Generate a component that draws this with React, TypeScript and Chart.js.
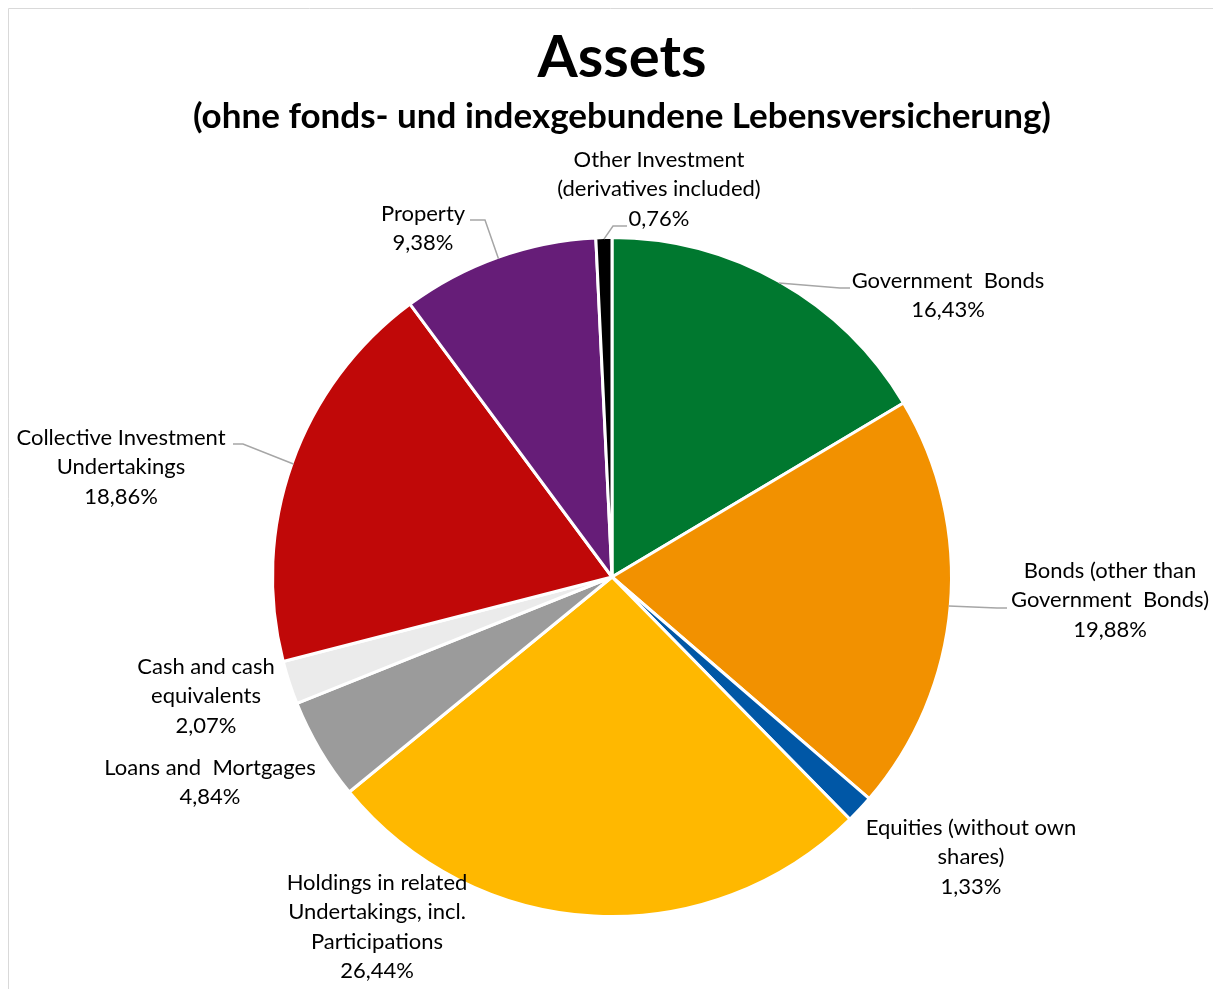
import React, { useEffect, useRef } from "react";
import { Chart, registerables } from "chart.js";

Chart.register(...registerables);

const categories = [
  "Government Bonds",
  "Bonds (other than Government Bonds)",
  "Equities (without own shares)",
  "Holdings in related Undertakings, incl. Participations",
  "Loans and Mortgages",
  "Cash and cash equivalents",
  "Collective Investment Undertakings",
  "Property",
  "Other Investment (derivatives included)",
];

const shares = [16.43, 19.88, 1.33, 26.44, 4.84, 2.07, 18.86, 9.38, 0.76];

const colors = [
  "#00782F",
  "#F29100",
  "#0057A6",
  "#FFB800",
  "#9B9B9B",
  "#EBEBEB",
  "#C00808",
  "#661D78",
  "#000000",
];

const wrappedLabels = [
  ["Government  Bonds"],
  ["Bonds (other than", "Government  Bonds)"],
  ["Equities (without own", "shares)"],
  ["Holdings in related", "Undertakings, incl.", "Participations"],
  ["Loans and  Mortgages"],
  ["Cash and cash", "equivalents"],
  ["Collective Investment", "Undertakings"],
  ["Property"],
  ["Other Investment", "(derivatives included)"],
];

const titleText = "Assets";
const subtitleText = "(ohne fonds- und indexgebundene Lebensversicherung)";

// label layout: offsets from pie centre (text centre x, first line centre y),
// optional leader: attach point and elbow point offsets
type LabelLayout = { dx: number; dy: number; leader?: { ax: number; ay: number; ex: number; ey: number } };
const labelLayout: LabelLayout[] = [
  { dx: 336, dy: -296, leader: { ax: 238, ay: -289, ex: 228, ey: -289 } },
  { dx: 498, dy: -6, leader: { ax: 395, ay: 31, ex: 385, ey: 31 } },
  { dx: 359, dy: 251 },
  { dx: -235, dy: 306 },
  { dx: -402, dy: 191 },
  { dx: -406, dy: 90 },
  { dx: -491, dy: -139, leader: { ax: -379, ay: -133, ex: -369, ey: -133 } },
  { dx: -189, dy: -363, leader: { ax: -142, ay: -357, ex: -127, ey: -357 } },
  { dx: 47, dy: -417, leader: { ax: 15, ay: -351, ex: 1, ey: -351 } },
];

const FONT = "Lato, 'Open Sans', sans-serif";
const LINE_H = 29.4;

const fmt = (v: number) => v.toFixed(2).replace(".", ",") + "%";

const overlayPlugin = {
  id: "overlay",
  afterDraw(chart: any) {
    const ctx = chart.ctx as CanvasRenderingContext2D;
    const meta = chart.getDatasetMeta(0);
    ctx.save();
    // frame
    ctx.strokeStyle = "#D9D9D9";
    ctx.lineWidth = 1;
    ctx.beginPath();
    ctx.moveTo(8.5, chart.height);
    ctx.lineTo(8.5, 8.5);
    ctx.lineTo(chart.width, 8.5);
    ctx.stroke();

    // titles
    ctx.fillStyle = "#000";
    ctx.textAlign = "center";
    ctx.textBaseline = "alphabetic";
    ctx.font = `bold 58px ${FONT}`;
    ctx.fillText(titleText, 622, 77);
    ctx.font = `bold 35px ${FONT}`;
    ctx.fillText(subtitleText, 622, 128);

    // labels
    ctx.font = `22px ${FONT}`;
    ctx.textBaseline = "middle";
    meta.data.forEach((arc: any, i: number) => {
      const p = arc.getProps(["x", "y", "startAngle", "endAngle", "outerRadius"], true);
      const cx = p.x;
      const cy = p.y;
      const lay = labelLayout[i];
      const lines = [...wrappedLabels[i], fmt(shares[i])];
      lines.forEach((ln, k) => {
        ctx.fillStyle = "#000";
        ctx.fillText(ln, cx + lay.dx, cy + lay.dy + k * LINE_H);
      });
      if (lay.leader) {
        const mid = (p.startAngle + p.endAngle) / 2;
        const r = p.outerRadius - 1.5;
        const sx = cx + Math.cos(mid) * r;
        const sy = cy + Math.sin(mid) * r;
        ctx.strokeStyle = "#A6A6A6";
        ctx.lineWidth = 1.5;
        ctx.beginPath();
        ctx.moveTo(sx, sy);
        ctx.lineTo(cx + lay.leader.ex, cy + lay.leader.ey);
        ctx.lineTo(cx + lay.leader.ax, cy + lay.leader.ay);
        ctx.stroke();
      }
    });
    ctx.restore();
  },
};

export default function App() {
  const ref = useRef<HTMLCanvasElement | null>(null);
  useEffect(() => {
    if (!ref.current) return;
    const chart = new Chart(ref.current, {
      type: "pie",
      data: {
        labels: categories,
        datasets: [
          {
            data: shares,
            backgroundColor: colors,
            borderColor: "#FFFFFF",
            borderWidth: 3,
            borderJoinStyle: "round",
          } as any,
        ],
      },
      options: {
        animation: false,
        responsive: false,
        maintainAspectRatio: false,
        devicePixelRatio: 1,
        layout: { padding: { top: 236, bottom: 71, left: 11, right: 0 } },
        plugins: {
          legend: { display: false },
          tooltip: { enabled: false },
          title: { display: false },
        },
      },
      plugins: [overlayPlugin],
    });
    return () => chart.destroy();
  }, []);
  return (
    <div style={{ position: "fixed", left: 0, top: 0, width: 1213, height: 989, background: "#fff" }}>
      <canvas ref={ref} width={1213} height={989} style={{ width: 1213, height: 989, display: "block" }} />
    </div>
  );
}
